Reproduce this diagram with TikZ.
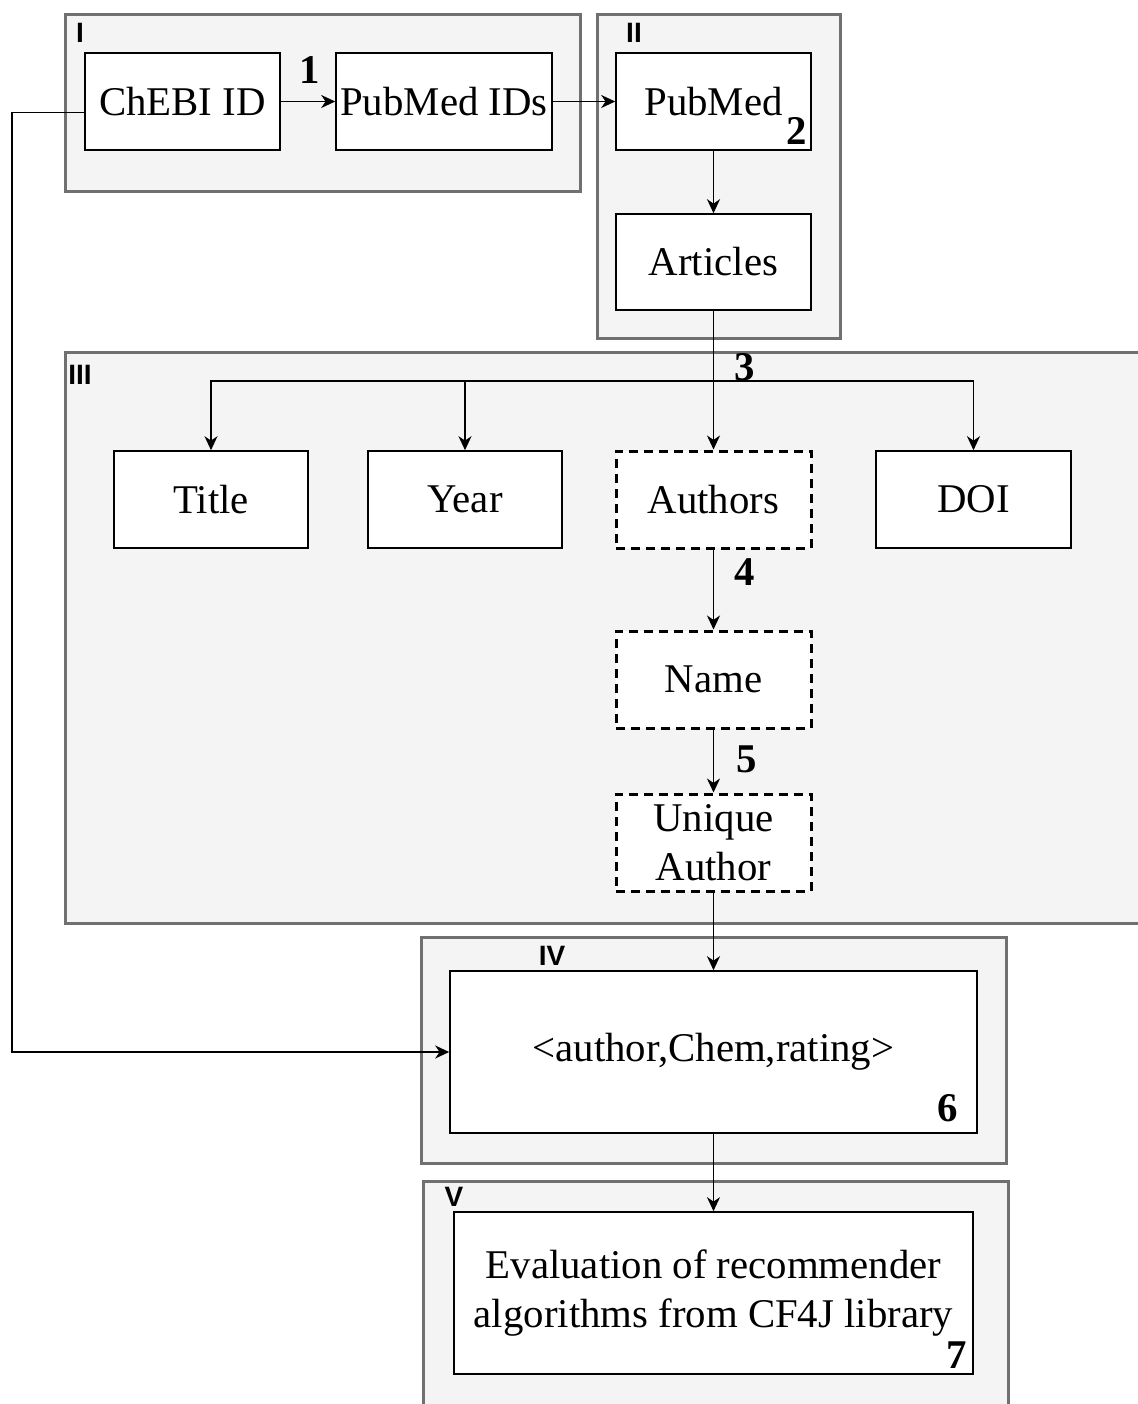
\documentclass[tikz,border=0pt]{standalone}
\usepackage{fontspec}
\setmainfont{Liberation Serif}
\newfontfamily\labelfont{Liberation Sans}
\usetikzlibrary{arrows.meta}
\definecolor{groupfill}{HTML}{F4F4F4}
\definecolor{groupline}{HTML}{707070}
\begin{document}
\begin{tikzpicture}[x=0.5pt,y=-0.5pt,
  group/.style={draw=groupline,fill=groupfill,line width=1.5pt,inner sep=0pt,rectangle},
  box/.style={draw=black,fill=white,line width=0.8pt,inner sep=0pt,rectangle,
    minimum width=97.5pt,minimum height=48.5pt,align=center,
    font=\fontsize{20.4}{24.5}\selectfont},
  dbox/.style={box,line width=1.5pt,dash pattern=on 4.5pt off 3pt},
  step num/.style={inner sep=0pt,font=\fontsize{20.4}{24}\selectfont\bfseries},
  grouplabel/.style={inner sep=0pt,font=\labelfont\fontsize{14}{15}\selectfont\bfseries},
  arr/.style={line width=0.9pt,-{Stealth[length=7pt,width=6.5pt,inset=2.2pt]}}]
\useasboundingbox (0,0) rectangle (1138,1404);
\clip (0,0) rectangle (1138,1404);

% grouping panels
\node[group,minimum width=257.5pt,minimum height=88.5pt] (gI) at (322.5,102.5) {};
\node[group,minimum width=121.5pt,minimum height=162pt] (gII) at (718.5,176) {};
\node[group,minimum width=542.5pt,minimum height=285.5pt] (gIII) at (607.5,637.5) {};
\node[group,minimum width=292.5pt,minimum height=113pt] (gIV) at (713.5,1050) {};
\node[group,minimum width=292.5pt,minimum height=119.5pt] (gV) at (715.5,1300.5) {};

\node[grouplabel] (lI) at (80,33) {I};
\node[grouplabel] (lII) at (634,33) {II};
\node[grouplabel] (lIII) at (80,375) {III};
\node[grouplabel] (lIV) at (552,956) {IV};
\node[grouplabel] (lV) at (454,1197) {V};

% process boxes
\node[box] (chebi) at (182.5,101.5) {ChEBI ID};
\node[box,minimum width=108pt] (pmids) at (444,101.5) {PubMed IDs};
\node[box] (pubmed) at (713.5,101.5) {PubMed};
\node[box,minimum height=48pt] (articles) at (713.5,262) {Articles};
\node[box,minimum width=97pt] (title) at (211,499.5) {Title};
\node[box,minimum width=97pt] (year) at (465,499.5) {Year};
\node[dbox] (authors) at (713.5,499.5) {Authors};
\node[box] (doi) at (973.5,499.5) {DOI};
\node[dbox] (name) at (713.5,679.5) {Name};
\node[dbox] (unique) at (713.5,842.5) {Unique\\Author};
\node[box,minimum width=263.5pt,minimum height=81pt] (tuple) at (713.5,1052) {\raisebox{-2pt}{<author,Chem,rating>}};
\node[box,minimum width=259.5pt,minimum height=81pt] (eval) at (713.5,1293)
  {Evaluation of recommender\\algorithms from CF4J library};

% step numbers
\node[step num] (n1) at (310,70) {1};
\node[step num] (n2) at (797,131) {2};
\node[step num] (n3) at (745,367) {3};
\node[step num] (n4) at (745,572) {4};
\node[step num] (n5) at (747,759) {5};
\node[step num] (n6) at (948,1108) {6};
\node[step num] (n7) at (957,1355) {7};

% connectors
\draw[arr] (chebi) -- (pmids);
\draw[arr] (pmids) -- (pubmed);
\draw[arr] (pubmed) -- (articles);
\draw[arr] (articles) -- (authors);
\coordinate (bus) at (713.5,381);
\draw[arr] (bus) -| (title.north);
\draw[arr] (bus) -| (year.north);
\draw[arr] (bus) -| (doi.north);
\draw[arr] (authors) -- (name);
\draw[arr] (name) -- (unique);
\draw[arr] (unique) -- (tuple);
\draw[arr] (tuple) -- (eval);
\coordinate (rail) at (12,0);
\draw[arr] ([yshift=-5.5pt]chebi.west) -| (rail |- tuple.west) -- (tuple.west);
\end{tikzpicture}
\end{document}
